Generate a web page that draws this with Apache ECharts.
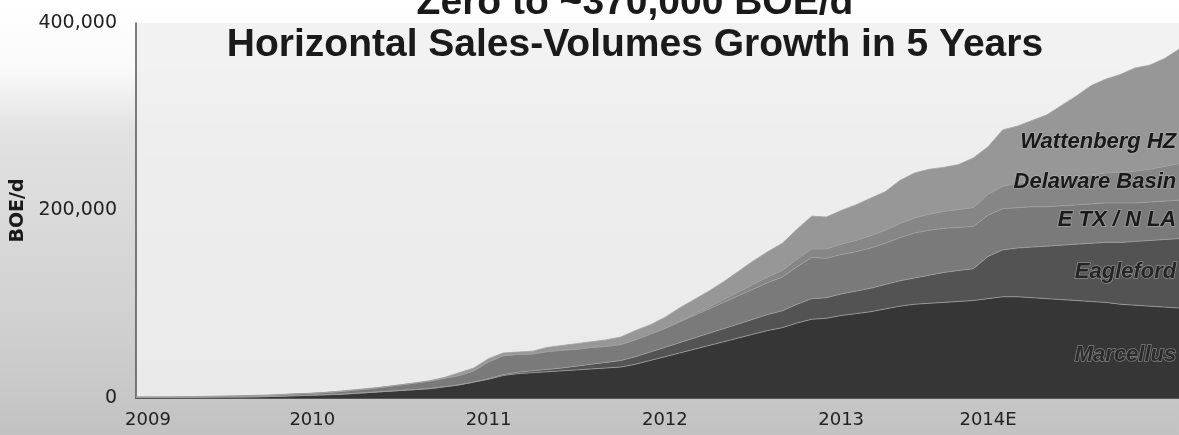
<!DOCTYPE html>
<html>
<head>
<meta charset="utf-8">
<title>Horizontal Sales-Volumes Growth</title>
<script src="https://cdn.jsdelivr.net/npm/echarts@6/dist/echarts.min.js"></script>
<style>
  html, body { margin: 0; padding: 0; background: #ffffff; }
  #chart { width: 1179px; height: 435px; }
</style>
</head>
<body>
<div id="chart"></div>
<script>
// Monthly sales volumes by play, thousand BOE/d, Jan 2009 – Dec 2014 (2014 estimated)
const months = [];
for (let y = 2009; y <= 2014; y++) {
  for (let m = 1; m <= 12; m++) months.push(y + '-' + String(m).padStart(2, '0'));
}

// Year labels shown under the axis, keyed by month
const yearTickLabels = {
  '2009-01': '2009',
  '2010-01': '2010',
  '2011-01': '2011',
  '2012-01': '2012',
  '2013-01': '2013',
  '2013-11': '2014E'
};

const yTicks = [0, 200, 400];

const marcellus = [
  0.5, 0.5, 0.5, 0.6, 0.7, 0.8, 1, 1, 1.2, 1.5, 2, 2.5,
  3, 3.5, 4, 5, 6, 7, 8, 9, 10, 12, 14, 17,
  20, 24, 26, 27, 28, 29, 30, 31, 32, 33, 36, 40,
  44, 48, 52, 56, 60, 64, 68, 72, 75, 80, 84, 85,
  88, 90, 92, 95, 98, 100, 101, 102, 103, 104, 106, 108,
  108, 107, 106, 105, 104, 103, 102, 100, 99, 98, 97, 96
];

const eagleford = [
  0, 0, 0, 0, 0, 0, 0, 0, 0, 0, 0, 0,
  0, 0, 0, 0, 0, 0, 0, 0, 0, 0, 0, 0,
  0.5, 1, 1.5, 2, 2.5, 3, 4, 5, 6, 7, 8, 9,
  10, 11, 12, 13, 14, 15, 16, 17, 18, 20, 22, 22,
  23, 24, 25, 26, 27, 28, 30, 32, 33, 34, 45, 50,
  52, 54, 56, 58, 60, 62, 64, 66, 68, 70, 72, 74
];

const eTxNLa = [
  0.5, 0.5, 0.5, 0.5, 0.6, 0.7, 0.8, 1, 1, 1.2, 1.5, 2,
  2, 2.5, 3, 3.5, 4, 5, 6, 7, 8, 9, 10, 12,
  18, 20, 19, 18, 19, 19, 18, 18, 17, 17, 18, 19,
  20, 22, 24, 26, 28, 30, 32, 34, 36, 40, 44, 42,
  42, 42, 43, 44, 46, 48, 48, 47, 46, 45, 44, 44,
  43, 43, 42, 42, 42, 42, 42, 42, 41, 41, 41, 41
];

const delawareBasin = [
  0, 0, 0, 0, 0, 0, 0, 0, 0, 0, 0, 0,
  0, 0, 0, 0, 0, 0, 0, 0, 0, 0, 0, 0,
  0, 0, 0, 0, 0, 0, 0, 0, 0, 0, 0, 0,
  0.5, 1, 1.5, 2, 3, 4, 5, 6, 7, 8, 9, 10,
  11, 12, 13, 14, 15, 16, 17, 18, 19, 20, 22, 24,
  26, 27, 28, 29, 30, 31, 32, 33, 34, 35, 37, 39
];

const wattenbergHz = [
  0, 0, 0.2, 0.3, 0.3, 0.3, 0.2, 0.4, 0.6, 0.5, 0.3, 0,
  0, 0, 0.5, 0.5, 0.5, 0, 0, 0, 0.5, 1, 3, 3,
  3.5, 3, 2.5, 3, 4.5, 5, 6, 6, 7, 8, 10, 10,
  11.5, 14, 15.5, 17, 19, 22, 25, 27, 29, 32, 35, 34,
  36, 38, 40, 41, 46, 48, 48, 47, 48, 53, 51, 60,
  61, 65, 70, 78, 86, 95, 100, 104, 110, 111, 115, 122
];

const seriesDefs = [
  { name: 'Marcellus', data: marcellus, color: '#363636' },
  { name: 'Eagleford', data: eagleford, color: '#535353' },
  { name: 'E TX / N LA', data: eTxNLa, color: '#7a7a7a' },
  { name: 'Delaware Basin', data: delawareBasin, color: '#868686' },
  { name: 'Wattenberg HZ', data: wattenbergHz, color: '#979797' }
];

const chart = echarts.init(document.getElementById('chart'), null, { renderer: 'canvas' });

// Play names written inside the right end of each band
const playLabel = (text, y, fill) => ({
  type: 'text',
  right: 2,
  top: y - 12,
  z: 100,
  style: {
    text: text,
    fill: fill,
    font: 'italic bold 22px "Liberation Sans", Arial, sans-serif',
    stroke: 'rgba(190,190,190,0.55)',
    lineWidth: 1.5
  }
});

chart.setOption({
  animation: false,
  backgroundColor: {
    type: 'linear', x: 0, y: 0, x2: 0, y2: 1,
    colorStops: [
      { offset: 0, color: '#ffffff' },
      { offset: 0.16, color: '#fafafa' },
      { offset: 0.3, color: '#e2e2e2' },
      { offset: 0.75, color: '#d0d0d0' },
      { offset: 1, color: '#c2c2c2' }
    ]
  },
  grid: {
    left: 136, right: 0, top: 23, bottom: 37,
    show: true,
    borderWidth: 0,
    backgroundColor: 'rgba(240,240,240,0.85)'
  },
  graphic: [
    {
      type: 'text', z: 100,
      x: 635, y: 3,
      style: {
        text: 'Zero to ~370,000 BOE/d',
        x: 0, y: 0,
        align: 'center', verticalAlign: 'middle',
        fill: '#1a1a1a',
        font: 'bold 39px "Liberation Sans", Arial, sans-serif'
      }
    },
    {
      type: 'text', z: 100,
      x: 635, y: 45,
      style: {
        text: 'Horizontal Sales-Volumes Growth in 5 Years',
        x: 0, y: 0,
        align: 'center', verticalAlign: 'middle',
        fill: '#1a1a1a',
        font: 'bold 39px "Liberation Sans", Arial, sans-serif'
      }
    },
    playLabel('Wattenberg HZ', 142, '#1a1a1a'),
    playLabel('Delaware Basin', 182, '#1a1a1a'),
    playLabel('E TX / N LA', 220, '#1a1a1a'),
    playLabel('Eagleford', 272, '#262626'),
    playLabel('Marcellus', 355, '#2a2a2a')
  ],
  xAxis: {
    type: 'category',
    data: months,
    boundaryGap: false,
    axisLine: { show: true, lineStyle: { color: '#333333', width: 1.5 } },
    axisTick: { show: false },
    splitLine: { show: false },
    axisLabel: {
      interval: (i, v) => yearTickLabels[v] !== undefined,
      showMinLabel: true,
      margin: 13,
      color: '#222222',
      fontFamily: '"DejaVu Sans", Verdana, sans-serif',
      fontSize: 18,
      formatter: v => v === months[0] ? '{first|' + yearTickLabels[v] + '}' : yearTickLabels[v],
      rich: {
        first: {
          padding: [0, 0, 0, 24],
          color: '#222222',
          fontFamily: '"DejaVu Sans", Verdana, sans-serif',
          fontSize: 18
        }
      }
    }
  },
  yAxis: {
    type: 'value',
    min: yTicks[0],
    max: yTicks[yTicks.length - 1],
    interval: yTicks[1] - yTicks[0],
    name: 'BOE/d',
    nameLocation: 'middle',
    nameRotate: 90,
    nameGap: 104,
    nameTextStyle: {
      color: '#1a1a1a',
      fontFamily: '"DejaVu Sans", Verdana, sans-serif',
      fontWeight: 'bold',
      fontSize: 19
    },
    axisLine: { show: true, lineStyle: { color: '#555555', width: 1.5 } },
    axisTick: { show: false },
    splitLine: { show: false },
    axisLabel: {
      margin: 19,
      color: '#222222',
      fontFamily: '"DejaVu Sans", Verdana, sans-serif',
      fontSize: 19,
      formatter: v => (v * 1000).toLocaleString('en-US')
    }
  },
  series: seriesDefs.map(s => ({
    name: s.name,
    type: 'line',
    stack: 'volumes',
    data: s.data,
    symbol: 'none',
    smooth: false,
    lineStyle: { width: 0.8, color: '#a0a0a0' },
    areaStyle: { color: s.color, opacity: 1 },
    itemStyle: { color: s.color },
    emphasis: { disabled: true },
    z: 2
  }))
});
</script>
</body>
</html>
